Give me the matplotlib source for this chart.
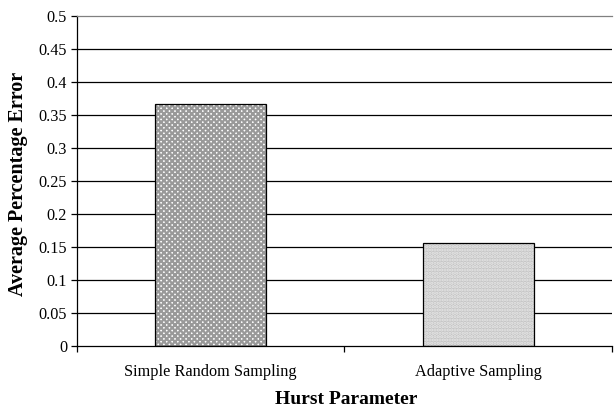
import numpy as np
import matplotlib.pyplot as plt

categories = ['Simple Random Sampling', 'Adaptive Sampling']
values = [0.367, 0.156]
yticks = [0, 0.05, 0.1, 0.15, 0.2, 0.25, 0.3, 0.35, 0.4, 0.45, 0.5]
ytick_labels = ['0', '0.05', '0.1', '0.15', '0.2', '0.25', '0.3', '0.35', '0.4', '0.45', '0.5']

plt.rcParams['font.family'] = ['Liberation Serif', 'DejaVu Serif']
plt.rcParams['hatch.linewidth'] = 1.6

W, H = 615, 407
fig = plt.figure(figsize=(W / 100, H / 100), dpi=100)
ax = fig.add_axes([0.125, 0.150, 0.870, 0.811])

x = np.arange(len(categories))

# gridlines
for t in yticks[1:-1]:
    ax.axhline(t, color='black', linewidth=0.9, zorder=1)

# patterned fills (hatch takes the edge colour, so outline drawn separately)
ax.bar(x[0], values[0], width=0.415, color='white', edgecolor='#999999',
       hatch='xxxxxx', linewidth=0, zorder=2)
ax.bar(x[1], values[1], width=0.415, color='#c4c4c4', edgecolor='#e8e8e8',
       hatch='.....', linewidth=0, zorder=2)
ax.bar(x, values, width=0.415, fill=False, edgecolor='black', linewidth=0.9, zorder=3)

ax.set_xlim(-0.5, 1.5)
ax.set_ylim(0, 0.5)
ax.set_yticks(yticks)
ax.set_yticklabels(ytick_labels, fontsize=11.7)
ax.set_xticks(x)
ax.set_xticklabels(categories, fontsize=11.7)
ax.tick_params(axis='x', length=0, pad=13)
ax.set_xticks([-0.5, 0.5, 1.5], minor=True)
ax.tick_params(axis='x', which='minor', length=4, direction='out', width=0.9)
ax.tick_params(axis='y', length=4, direction='out', width=0.9, pad=3)

for s in ['left', 'bottom']:
    ax.spines[s].set_linewidth(0.9)
ax.spines['right'].set_visible(False)
ax.spines['top'].set_color('#808080')
ax.spines['top'].set_linewidth(0.9)

fig.text(18 / W, 1 - 184 / H, 'Average Percentage Error', rotation=90,
         ha='center', va='center', fontsize=14.5, fontweight='bold')
fig.text(346 / W, 1 - 400 / H, 'Hurst Parameter',
         ha='center', va='center', fontsize=14, fontweight='bold')

fig.savefig('out.png', dpi=100)
